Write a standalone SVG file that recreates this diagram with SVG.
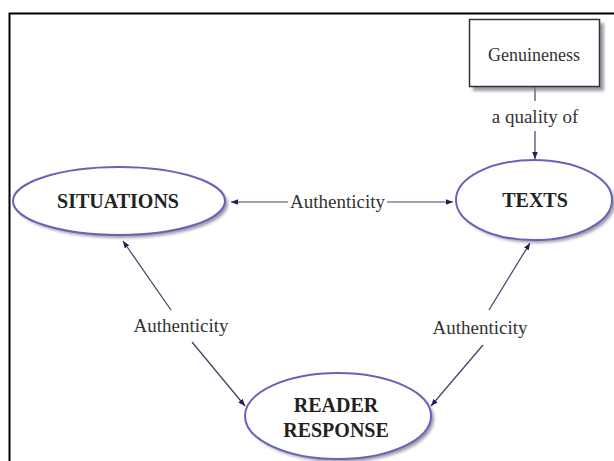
<svg xmlns="http://www.w3.org/2000/svg" width="614" height="461" viewBox="0 0 614 461">
<style>
.lbl{font-family:"Liberation Serif","Times New Roman",serif;font-size:19px;fill:#333;text-anchor:middle}
.node{font-family:"Liberation Serif","Times New Roman",serif;font-size:20px;font-weight:bold;fill:#222;text-anchor:middle}
.ell{fill:#fff;stroke:#6a62b8;stroke-width:2}
.shadow{fill:#7a7a8a;opacity:.75}
.conn{stroke:#3e3e6a;stroke-width:1.2;fill:none}
</style>
<defs>
<marker id="arr" viewBox="0 0 10 10" refX="10" refY="5" markerWidth="7" markerHeight="7" markerUnits="userSpaceOnUse" orient="auto-start-reverse"><path d="M0,1 L10,5 L0,9 z" fill="#1f1f5a"/></marker>
<filter id="blur" x="-20%" y="-20%" width="140%" height="140%"><feGaussianBlur stdDeviation="1.5"/></filter>
</defs>
<rect x="0" y="0" width="614" height="461" fill="#fff"/>
<rect x="9.5" y="13.5" width="620" height="460" fill="none" stroke="#000" stroke-width="2"/>
<g id="connectors">
<line class="conn" x1="535" y1="87" x2="535" y2="101"/>
<line class="conn" x1="535" y1="131" x2="535" y2="159" marker-end="url(#arr)"/>
<text class="lbl" x="535" y="123">a quality of</text>
<line class="conn" x1="288" y1="202" x2="231" y2="202" marker-end="url(#arr)"/>
<line class="conn" x1="387" y1="202" x2="453" y2="202" marker-end="url(#arr)"/>
<text class="lbl" x="337.5" y="208">Authenticity</text>
<line class="conn" x1="171" y1="310" x2="123" y2="241" marker-end="url(#arr)"/>
<line class="conn" x1="192" y1="342" x2="245" y2="406" marker-end="url(#arr)"/>
<text class="lbl" x="181" y="332">Authenticity</text>
<line class="conn" x1="489" y1="310" x2="530" y2="243" marker-end="url(#arr)"/>
<line class="conn" x1="483" y1="345" x2="431" y2="406" marker-end="url(#arr)"/>
<text class="lbl" x="480" y="334">Authenticity</text>
</g>
<g id="genuineness">
<rect class="shadow" x="473" y="23" width="131" height="68" filter="url(#blur)"/>
<rect x="469.5" y="19.5" width="130" height="67" fill="#fff" stroke="#333" stroke-width="1.5"/>
<text class="lbl" x="534" y="61" style="font-size:18px">Genuineness</text>
</g>
<g id="situations">
<ellipse class="shadow" cx="122" cy="204" rx="106" ry="34" filter="url(#blur)"/>
<ellipse class="ell" cx="119" cy="201" rx="106" ry="34"/>
<text class="node" x="118" y="208">SITUATIONS</text>
</g>
<g id="texts">
<ellipse class="shadow" cx="537" cy="203" rx="78" ry="40" filter="url(#blur)"/>
<ellipse class="ell" cx="534" cy="200" rx="78" ry="40"/>
<text class="node" x="535" y="207">TEXTS</text>
</g>
<g id="reader-response">
<ellipse class="shadow" cx="341" cy="419" rx="93" ry="43" filter="url(#blur)"/>
<ellipse class="ell" cx="338" cy="416" rx="93" ry="43"/>
<text class="node" x="336" y="412">READER</text>
<text class="node" x="336" y="437">RESPONSE</text>
</g>
</svg>
